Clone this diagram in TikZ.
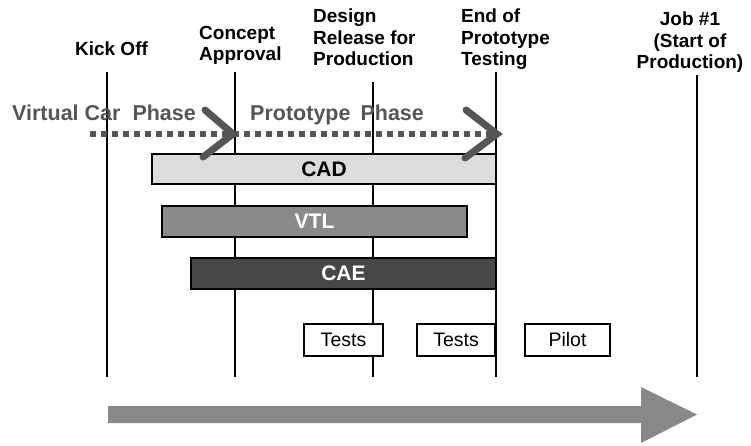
\documentclass[tikz,border=0pt]{standalone}
\usepackage{fontspec}
\setmainfont{Liberation Sans}
\definecolor{phasegray}{HTML}{555555}
\definecolor{cadfill}{HTML}{DCDCDC}
\definecolor{vtlfill}{HTML}{8A8A8A}
\definecolor{caefill}{HTML}{474747}
\definecolor{timegray}{HTML}{888888}
\tikzset{
  milestone/.style={inner sep=0pt, font=\bfseries\fontsize{19}{21.5}\selectfont},
  gate/.style={line width=2pt, black},
  phaselabel/.style={inner sep=0pt, text=phasegray, font=\bfseries\fontsize{21.5}{24}\selectfont},
  phaseline/.style={line width=6pt, phasegray, dash pattern=on 6pt off 5pt},
  chevron/.style={line width=7pt, phasegray, line cap=round},
  toolbar/.style={draw=black, line width=2pt, inner sep=0pt, font=\bfseries\fontsize{21}{24}\selectfont},
  testbox/.style={draw=black, fill=white, line width=1.5pt, inner sep=0pt, minimum height=32pt, font=\fontsize{19.5}{22}\selectfont},
}
\begin{document}
\begin{tikzpicture}[x=1pt, y=-1pt]
\useasboundingbox (0,0) rectangle (751,445);

% milestone headings
\node[milestone, anchor=base] (kick) at (111.5,55) {Kick Off};
\node[milestone, anchor=north west, align=left] (concept) at (199,26) {Concept\\Approval};
\node[milestone, anchor=north west, align=left] (design) at (313,9) {Design\\Release for\\Production};
\node[milestone, anchor=north west, align=left] (eop) at (461,9) {End of\\Prototype\\Testing};
\node[milestone, anchor=north, align=center] (job) at (690,12) {Job \#1\\(Start of\\Production)};

% ends of the milestone gates
\coordinate (kickT) at (107,72);    \coordinate (kickB) at (107,377);
\coordinate (conT) at (235,72);     \coordinate (conB) at (235,377);
\coordinate (desT) at (373,82);     \coordinate (desB) at (373,377);
\coordinate (eopT) at (496,72);     \coordinate (eopB) at (496,377);
\coordinate (jobT) at (697,75);     \coordinate (jobB) at (697,377);
\foreach \g in {kick,con,des,eop,job}
  \draw[gate] (\g T) -- (\g B);

% phases
\node[phaselabel, anchor=base west] (virtual) at (12,120) {Virtual Car\hspace{12pt}Phase};
\node[phaselabel, anchor=base west] (proto) at (250,120) {Prototype\hspace{10pt}Phase};
\coordinate (phStart) at (90,134);
\coordinate (phMid) at (233,134);
\coordinate (phEnd) at (497,134);
\draw[phaseline] (phStart) -- (phEnd);

% tool bars
\node[toolbar, fill=cadfill, text=black, minimum width=344pt, minimum height=30pt] (cad) at (324,169) {CAD};
\node[toolbar, fill=vtlfill, text=white, minimum width=305pt, minimum height=31pt] (vtl) at (314.5,221.5) {VTL};
\node[toolbar, fill=caefill, text=white, minimum width=305pt, minimum height=31pt] (cae) at (343.5,273.5) {CAE};

% phase chevrons
\draw[chevron] (205,110) -- (phMid) -- (203,157);
\draw[chevron] (466,110) -- (phEnd) -- (465,158);

% test and pilot boxes
\node[testbox, minimum width=79pt] (tests1) at (343.5,340) {Tests};
\node[testbox, minimum width=78pt] (tests2) at (456,340) {Tests};
\node[testbox, minimum width=85pt] (pilot) at (567.5,340) {Pilot};

% time arrow
\fill[timegray] (108,406) -- (641,406) -- (641,387) -- (697,414.5)
  -- (641,443) -- (641,423) -- (108,423) -- cycle;
\end{tikzpicture}
\end{document}
